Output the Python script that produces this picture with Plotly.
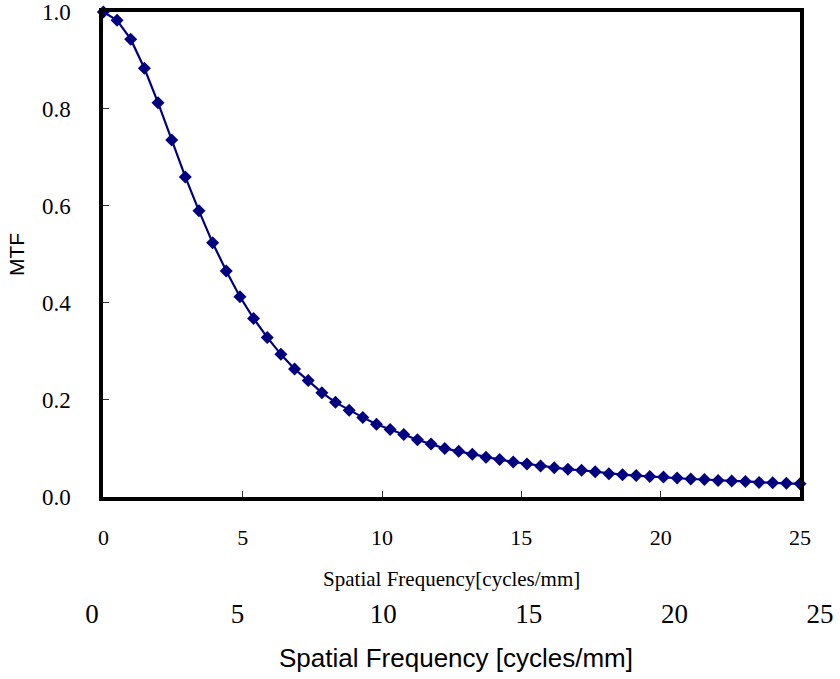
import plotly.graph_objects as go

# Spatial frequency samples [cycles/mm]
freq = [0.00, 0.49, 0.98, 1.47, 1.96, 2.45, 2.94, 3.43, 3.92, 4.41,
        4.90, 5.39, 5.88, 6.37, 6.86, 7.35, 7.84, 8.33, 8.82, 9.31,
        9.80, 10.29, 10.78, 11.27, 11.76, 12.25, 12.75, 13.24, 13.73, 14.22,
        14.71, 15.20, 15.69, 16.18, 16.67, 17.16, 17.65, 18.14, 18.63, 19.12,
        19.61, 20.10, 20.59, 21.08, 21.57, 22.06, 22.55, 23.04, 23.53, 24.02,
        24.51, 25.00]

mtf = [1.000, 0.983, 0.944, 0.884, 0.813, 0.736, 0.660, 0.590, 0.524, 0.466,
       0.413, 0.368, 0.329, 0.294, 0.264, 0.240, 0.215, 0.195, 0.179, 0.164,
       0.150, 0.139, 0.129, 0.118, 0.109, 0.100, 0.094, 0.088, 0.082, 0.077,
       0.072, 0.068, 0.064, 0.060, 0.057, 0.055, 0.052, 0.048, 0.046, 0.044,
       0.042, 0.041, 0.039, 0.037, 0.036, 0.034, 0.033, 0.032, 0.030, 0.029,
       0.028, 0.027]

x_ticks = [0, 5, 10, 15, 20, 25]
y_ticks = [0.0, 0.2, 0.4, 0.6, 0.8, 1.0]

W, H = 840, 679
pl, pr = 92, 820          # paper area left / right (px)
pt, pb = 12.4, 595        # paper area top / bottom (px)
ax_l, ax_r = 103.4, 800   # main axis horizontal extent
ax_b = 497                # main axis bottom

pw = pr - pl
ph = pb - pt

fig = go.Figure()
fig.add_trace(go.Scatter(
    x=freq, y=mtf, mode="lines+markers",
    line=dict(color="#000080", width=2.2),
    marker=dict(symbol="diamond", size=10, color="#000080"),
    cliponaxis=False, showlegend=False,
))
fig.add_trace(go.Scatter(x=[None], y=[None], xaxis="x2", yaxis="y",
                         showlegend=False, hoverinfo="skip"))

serif = "Liberation Serif"
sans = "Liberation Sans"

fig.update_layout(
    width=W, height=H,
    margin=dict(l=pl, r=W - pr, t=pt, b=H - pb, pad=0, autoexpand=False),
    showlegend=False,
    paper_bgcolor="white",
    plot_bgcolor="rgba(0,0,0,0)",
    xaxis=dict(
        domain=[(ax_l - pl) / pw, (ax_r - pl) / pw],
        range=[0, 25], tickvals=x_ticks, ticktext=[str(v) for v in x_ticks],
        showgrid=False, zeroline=False, automargin=False,
        showline=True, linecolor="black", linewidth=4, mirror=True,
        ticks="inside", ticklen=6, tickwidth=1, tickcolor="#333333",
        tickfont=dict(family=serif, size=22, color="black"),
        ticklabelstandoff=18, ticklabeloverflow="allow",
        title=dict(text="Spatial Frequency[cycles/mm]",
                   font=dict(family=serif, size=21, color="black"),
                   standoff=23),
        anchor="y",
    ),
    xaxis2=dict(
        domain=[0, 1], anchor="free", position=0,
        range=[0, 25], tickvals=x_ticks, ticktext=[str(v) for v in x_ticks],
        showgrid=False, zeroline=False, showline=False, ticks="",
        automargin=False, ticklabeloverflow="allow",
        tickfont=dict(family=serif, size=27, color="black"),
        title=dict(text="Spatial Frequency [cycles/mm]",
                   font=dict(family=sans, size=26, color="black"),
                   standoff=20),
    ),
    yaxis=dict(
        domain=[(pb - ax_b) / ph, 1],
        range=[0, 1], tickvals=y_ticks, ticktext=[f"{v:.1f}" for v in y_ticks],
        showgrid=False, zeroline=False, automargin=False,
        showline=True, linecolor="black", linewidth=4, mirror=True,
        ticks="inside", ticklen=6, tickwidth=1, tickcolor="#333333",
        tickfont=dict(family=serif, size=23, color="black"),
        ticklabelstandoff=24, ticklabeloverflow="allow",
        title=dict(text="MTF", font=dict(family=sans, size=21, color="black"),
                   standoff=13),
        anchor="x",
    ),
)

fig.write_html("out.html",
               config={"displayModeBar": False},
               post_script="document.body.style.margin='0';")
